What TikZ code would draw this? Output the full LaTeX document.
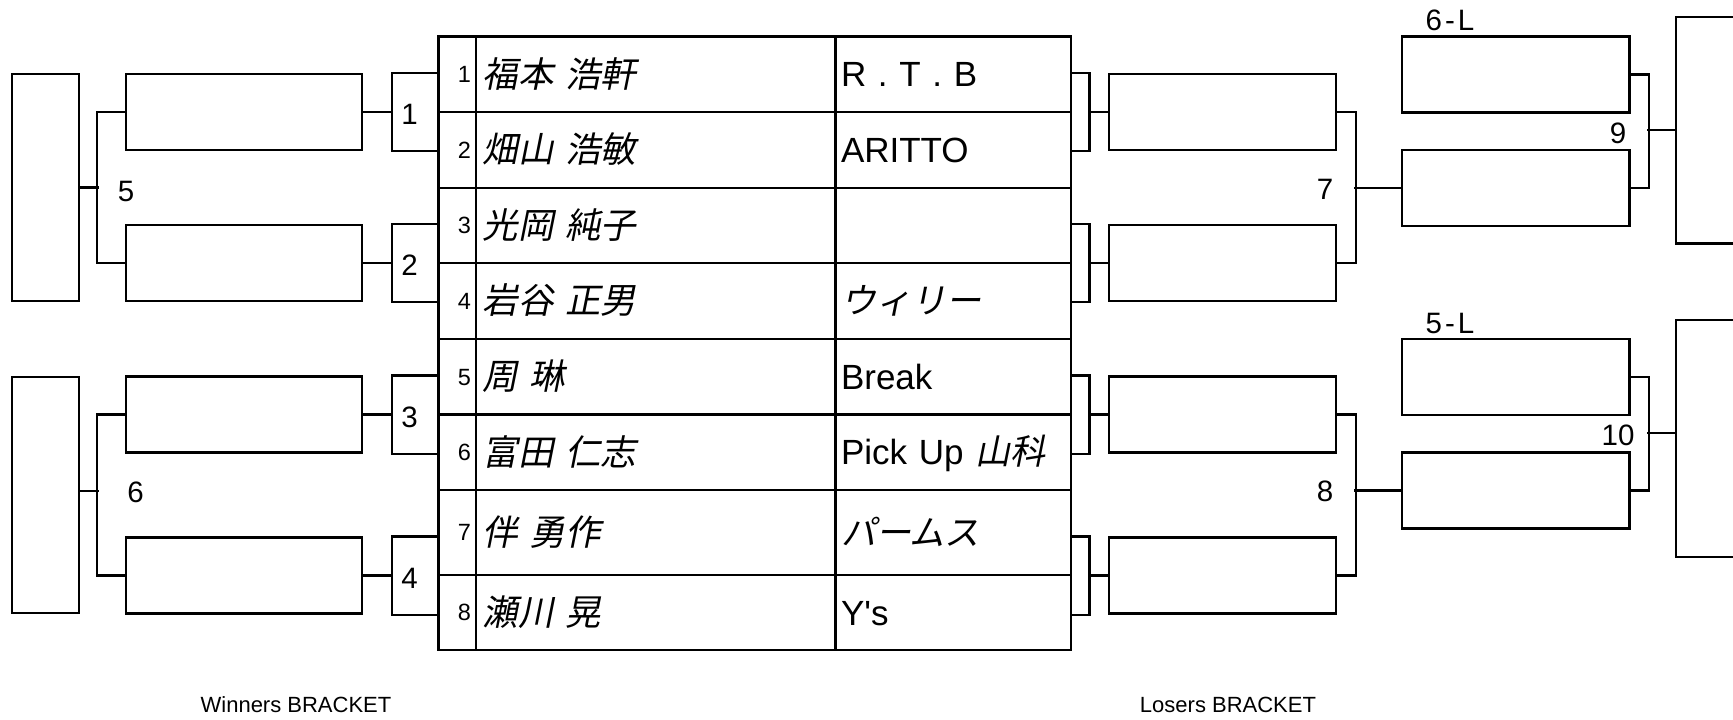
\documentclass[tikz,border=0pt]{standalone}
\usepackage{fontspec}
\setmainfont{Liberation Sans}
\newfontfamily\jp[FakeSlant=0.2]{Noto Sans CJK JP}

\begin{document}
\begin{tikzpicture}[x=1pt, y=-1pt, line width=2.2pt,
    slot/.style={draw, inner sep=0pt, minimum width=#1, minimum height=76pt},
    champ/.style={draw, inner sep=0pt, minimum width=67pt, minimum height=#1},
    cell/.style={draw, inner ysep=0pt, minimum height=#1, text depth=0pt},
    numcell/.style={cell=#1, inner xsep=5pt, text width=27.5pt, text height=16.8pt, align=right, font=\fontsize{23.5}{28}\selectfont},
    namecell/.style={cell=#1, inner xsep=6.5pt, text width=346.5pt, text height=25.5pt, align=left, font=\jp\fontsize{35.5}{40}\selectfont},
    teamcell/.style={cell=#1, inner xsep=5.5pt, text width=224.5pt, text height=25pt, align=left, font=\fontsize{35}{40}\selectfont},
    numlabel/.style={inner sep=0pt, text height=21.1pt, text depth=0pt, font=\fontsize{29.5}{34}\selectfont},
    bracketname/.style={inner sep=0pt, text height=15.8pt, text depth=0pt, font=\fontsize{22}{26}\selectfont}]

    \useasboundingbox (0,0) rectangle (1733,720);

    \foreach \i/\y/\h/\nm/\tm in {
        1/74.25/75.5pt/{福本 浩軒}/{R . T . B},
        2/150/76pt/{畑山 浩敏}/{ARITTO},
        3/225.5/75pt/{光岡 純子}/{},
        4/301/76pt/{岩谷 正男}/{\jp ウィリー},
        5/376.75/75.5pt/{周 琳}/{Break},
        6/452.25/75.5pt/{富田 仁志}/{Pick Up \jp 山科},
        7/532.5/85pt/{伴 勇作}/{\jp パームス},
        8/612.5/75pt/{瀬川 晃}/{Y\textquotesingle s}} {
        \node[numcell=\h] (N\i) at (457.25,\y) {\i};
        \node[namecell=\h] (P\i) at (655.75,\y) {\nm};
        \node[teamcell=\h] (T\i) at (953.25,\y) {\tm};
    }

    \node[slot=236pt] (W1) at (244,112) {};
    \node[slot=236pt] (W2) at (244,263) {};
    \node[slot=236pt] (W3) at (244,414.5) {};
    \node[slot=236pt] (W4) at (244,575.5) {};
    \node[champ=227pt] (WA) at (45.5,187.5) {};
    \node[champ=236pt] (WB) at (45.5,495) {};

    \node[slot=227.2pt] (L1) at (1222.4,112) {};
    \node[slot=227.2pt] (L2) at (1222.4,263) {};
    \node[slot=227.2pt] (L3) at (1222.4,414.5) {};
    \node[slot=227.2pt] (L4) at (1222.4,575.5) {};

    \node[slot=227.4pt] (M1) at (1515.7,74.5) {};
    \node[slot=227.4pt] (M2) at (1515.7,188) {};
    \node[slot=227.4pt] (M3) at (1515.7,376.8) {};
    \node[slot=227.4pt] (M4) at (1515.7,490.5) {};
    \node[champ=226.5pt] (F1) at (1709.5,130.25) {};
    \node[champ=237pt] (F2) at (1709.5,438.5) {};

    \foreach \i/\r in {1/1,2/3,3/5,4/7} {
        \draw (W\i.east) -- ++(29,0) coordinate (wb\i) ++(17.5,2) node[numlabel] {\i};
        \draw (N\r.west |- W\i.north) -| (wb\i) |- (N\r.west |- W\i.south);
        \draw (L\i.west) -- ++(-18.3,0) coordinate (lb\i);
        \draw (T\r.east |- L\i.north) -| (lb\i) |- (T\r.east |- L\i.south);
    }

    \draw (W1.west) -- ++(-28,0) |- (W2.west);
    \draw (WA.east) -- ++(19,0);
    \draw (W3.west) -- ++(-28,0) |- (W4.west);
    \draw ([yshift=4.3pt]WB.east) -- ++(19,0);

    \draw (L1.east) -- ++(19,0) |- (L2.east);
    \draw (M2.west) -- ++(-47,0);
    \draw (L3.east) -- ++(19,0) |- (L4.east);
    \draw (M4.west) -- ++(-47,0);

    \draw (M1.east) -- ++(18.5,0) |- (M2.east);
    \draw (F1.west) -- ++(-28.3,0);
    \draw (M3.east) -- ++(18.5,0) |- (M4.east);
    \draw ([yshift=5.2pt]F2.west) -- ++(-28.3,0);

    \node[numlabel] (r5) at (126,191) {5};
    \node[numlabel] (r6) at (135.5,491.5) {6};
    \node[numlabel] (r7) at (1325,189) {7};
    \node[numlabel] (r8) at (1325,491) {8};
    \node[numlabel] (r9) at (1618,132.5) {9};
    \node[numlabel] (r10) at (1618,434.5) {10};
    \node[numlabel] (l6) at (1450,19.5) {\addfontfeature{LetterSpace=10}6-L};
    \node[numlabel] (l5) at (1450,322.5) {\addfontfeature{LetterSpace=10}5-L};

    \node[bracketname] (wname) at (296,705) {Winners BRACKET};
    \node[bracketname] (lname) at (1228,705) {Losers BRACKET};
\end{tikzpicture}
\end{document}
